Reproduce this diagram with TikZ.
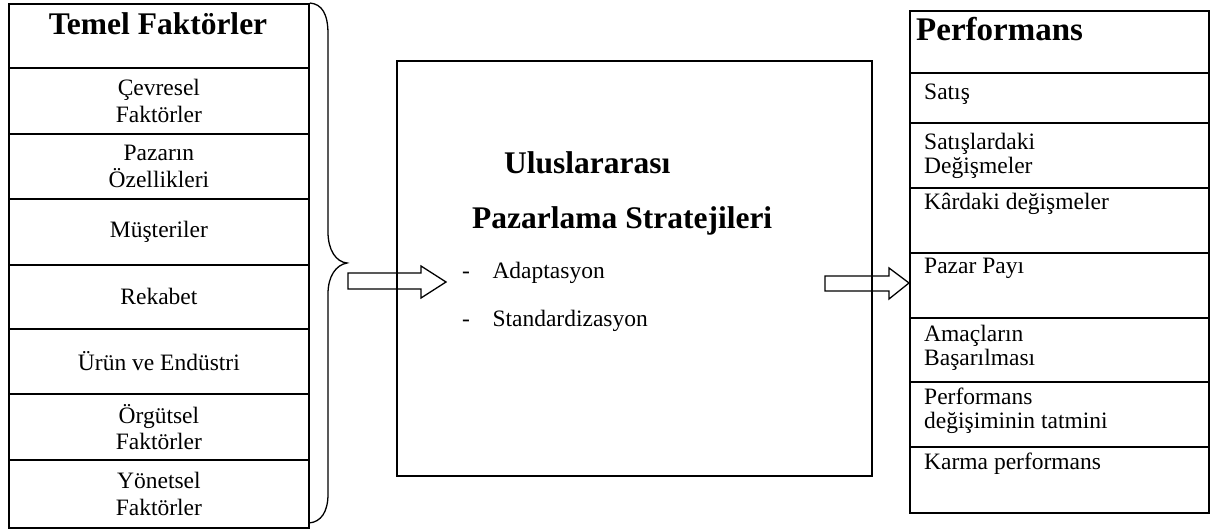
\documentclass[tikz,border=0pt]{standalone}
\usepackage{fontspec}
\setmainfont{Liberation Serif}
\begin{document}
\begin{tikzpicture}[x=1pt,y=-1pt,
  lcell/.style={draw, line width=1.8pt, minimum width=300pt, inner sep=0pt, anchor=north west, align=center,
    font=\fontsize{23.5pt}{26.5pt}\selectfont},
  rcell/.style={draw, line width=1.8pt, minimum width=299pt, inner sep=0pt, anchor=north west},
  rtext/.style={inner sep=0pt, anchor=north west, align=left, font=\fontsize{23.5pt}{24.5pt}\selectfont},
  boldtitle/.style={inner sep=0pt, font=\fontsize{31.5pt}{34pt}\selectfont\bfseries},
  midtext/.style={inner sep=0pt, anchor=base west, font=\fontsize{23.5pt}{26pt}\selectfont},
  blockarrow/.style={draw, line width=1.3pt, line join=miter},
  bracestyle/.style={draw, line width=1.3pt}
]
\useasboundingbox (0,0) rectangle (1212,529);

% left column
\node[lcell, minimum height=64pt] (l0) at (8,3) {};
\node[lcell, minimum height=66pt] (l1) at (8,67) {Çevresel\\Faktörler};
\node[lcell, minimum height=65pt] (l2) at (8,133) {Pazarın\\Özellikleri};
\node[lcell, minimum height=66pt] (l3) at (8,198) {Müşteriler};
\node[lcell, minimum height=64pt] (l4) at (8,264) {Rekabet};
\node[lcell, minimum height=65pt] (l5) at (8,328) {Ürün ve Endüstri};
\node[lcell, minimum height=66pt] (l6) at (8,393) {Örgütsel\\Faktörler};
\node[lcell, minimum height=68pt] (l7) at (8,459) {Yönetsel\\Faktörler};
\node[boldtitle, anchor=base] (ltitle) at (158,35) {Temel Faktörler};

% brace
\draw[bracestyle] (l0.north east) .. controls (322,4) and (328,14) .. (328,34)
  -- (328,232) .. controls (328,250) and (336,262) .. (347,263)
  coordinate (bracetip)
  .. controls (336,265) and (328,276) .. (328,294)
  -- (328,494) .. controls (328,512) and (321,522) .. (309,523);

% middle box
\node[draw, line width=1.6pt, minimum width=475pt, minimum height=415pt, inner sep=0pt, anchor=north west] (mid) at (396,60) {};
\node[boldtitle, anchor=base west] (m1) at (504,174) {Uluslararası};
\node[boldtitle, anchor=base west] (m2) at (472,229) {Pazarlama Stratejileri};
\node[midtext] (m3) at (462,278) {-\hspace{22.5pt}Adaptasyon};
\node[midtext] (m4) at (462,326) {-\hspace{22.5pt}Standardizasyon};

% right column
\node[rcell, minimum height=62pt] (r0) at (909,10) {};
\node[rcell, minimum height=50pt] (r1) at (909,72) {};
\node[rcell, minimum height=65pt] (r2) at (909,122) {};
\node[rcell, minimum height=65pt] (r3) at (909,187) {};
\node[rcell, minimum height=65pt] (r4) at (909,252) {};
\node[rcell, minimum height=64pt] (r5) at (909,317) {};
\node[rcell, minimum height=65pt] (r6) at (909,381) {};
\node[rcell, minimum height=66pt] (r7) at (909,446) {};
\node[boldtitle, anchor=base west, font=\fontsize{33pt}{36pt}\selectfont\bfseries] (rtitle) at (916,41) {Performans};
\node[rtext] (t1) at ([xshift=15pt]r1.north west) {\rule{0pt}{27pt}Satış};
\node[rtext] (t2) at ([xshift=15pt]r2.north west) {\rule{0pt}{27pt}Satışlardaki\\Değişmeler};
\node[rtext] (t3) at ([xshift=15pt]r3.north west) {\rule{0pt}{22pt}Kârdaki değişmeler};
\node[rtext] (t4) at ([xshift=15pt]r4.north west) {\rule{0pt}{21pt}Pazar Payı};
\node[rtext] (t5) at ([xshift=15pt]r5.north west) {\rule{0pt}{24pt}Amaçların\\Başarılması};
\node[rtext] (t6) at ([xshift=15pt]r6.north west) {\rule{0pt}{23pt}Performans\\değişiminin tatmini};
\node[rtext] (t7) at ([xshift=15pt]r7.north west) {\rule{0pt}{23pt}Karma performans};

% block arrows
\draw[blockarrow] (348,273) -- (421,273) -- (421,266) -- (446,282) -- (421,298) -- (421,289) -- (348,289) -- cycle;
\draw[blockarrow] (825,276) -- (889,276) -- (889,268) -- (r4.west |- 0,283) -- (889,299) -- (889,291) -- (825,291) -- cycle;
\end{tikzpicture}
\end{document}
